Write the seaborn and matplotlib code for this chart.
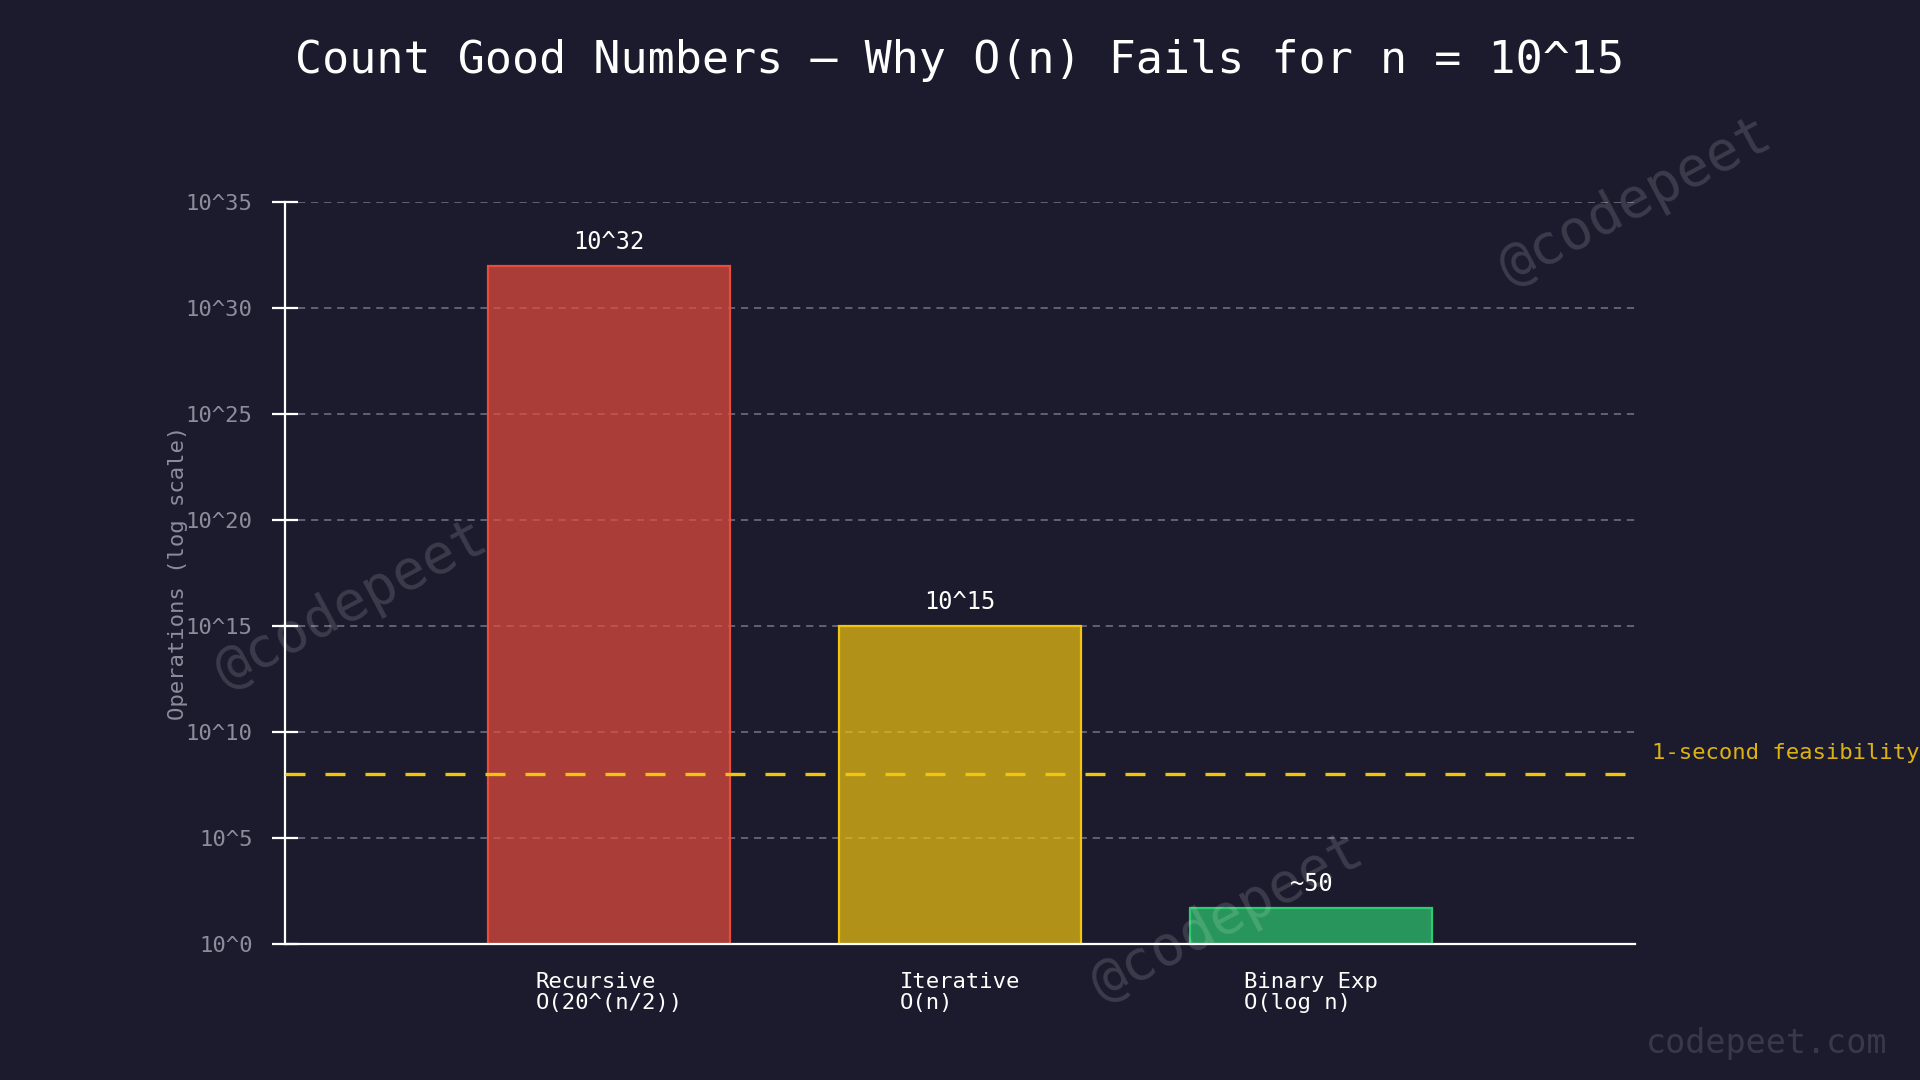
import math
import matplotlib
matplotlib.use("Agg")
import matplotlib.pyplot as plt
import matplotlib.transforms as mtransforms
from matplotlib.ticker import FixedLocator, FuncFormatter, NullLocator
import seaborn as sns
import pandas as pd

# ---- data ----
algorithms = ["Recursive\nO(20^(n/2))", "Iterative\nO(n)", "Binary Exp\nO(log n)"]
operations = [1e32, 1e15, 50]
value_labels = ["10^32", "10^15", "~50"]
bar_colors = ["#e74c3c", "#f1c40f", "#2ecc71"]
ytick_exponents = [0, 5, 10, 15, 20, 25, 30, 35]
feasibility_ops = 1e8
feasibility_label = "1-second feasibility"
title = "Count Good Numbers \u2014 Why O(n) Fails for n = 10^15"
ylabel = "Operations (log scale)"

BG = "#1c1b2e"

sns.set_style("dark", rc={"axes.facecolor": BG, "figure.facecolor": BG})
plt.rcParams["font.family"] = ["DejaVu Sans Mono", "DejaVu Sans"]

fig = plt.figure(figsize=(9.6, 5.4), dpi=200)
fig.patch.set_facecolor(BG)
ax = fig.add_axes([0.1484, 0.1259, 0.7031, 0.687])
ax.set_facecolor(BG)

df = pd.DataFrame({"algo": algorithms, "ops": operations})
sns.barplot(data=df, x="algo", y="ops", hue="algo", palette=bar_colors,
            legend=False, width=0.69, saturation=1, ax=ax, zorder=2)

ax.set_yscale("log")
ax.set_ylim(1, 1e35)
ax.set_xlim(-0.923, 2.923)

# style bars: translucent fill, solid edge
for patch in ax.patches:
    fc = patch.get_facecolor()
    patch.set_facecolor((fc[0], fc[1], fc[2], 0.7))
    patch.set_edgecolor((fc[0], fc[1], fc[2], 1.0))
    patch.set_linewidth(0.8)

# value labels
for i, (v, lbl) in enumerate(zip(operations, value_labels)):
    ax.annotate(lbl, (i, v), xytext=(0, 4.3), textcoords="offset points",
                ha="center", va="bottom", color="white", fontsize=8.5, zorder=5)

# feasibility line
ax.axhline(feasibility_ops, color="#f1c40f", lw=1.2, dashes=(6, 6), zorder=4)
trans = mtransforms.blended_transform_factory(ax.transAxes, ax.transData)
ax.text(1.013, 1e9, feasibility_label, transform=trans, color="#f1c40f",
        alpha=0.9, fontsize=8, va="center", ha="left", clip_on=False)

# y axis ticks
ax.yaxis.set_major_locator(FixedLocator([10.0 ** e for e in ytick_exponents]))
ax.yaxis.set_minor_locator(NullLocator())
ax.yaxis.set_major_formatter(FuncFormatter(lambda y, p: "10^%d" % round(math.log10(y))))
ax.tick_params(axis="y", direction="inout", length=9.4, width=0.8, color="white",
               labelcolor="#8c8c9a", labelsize=8, pad=7, left=True)
ax.tick_params(axis="x", length=0, labelcolor="white", labelsize=8, pad=10)
for t in ax.get_xticklabels():
    t.set_multialignment("left")
    t.set_linespacing(1.1)

ax.set_xlabel("")
ax.set_ylabel(ylabel, color="#8c8c9a", fontsize=8, va="center")
ax.yaxis.set_label_coords(-0.079, 0.5)

# grid
ax.grid(axis="y", color="#9a9aae", alpha=0.55, lw=0.7, ls=(0, (3.7, 3.0)), zorder=0)
ax.grid(axis="x", visible=False)
ax.set_axisbelow(True)

for s in ["top", "right"]:
    ax.spines[s].set_visible(False)
for s in ["left", "bottom"]:
    ax.spines[s].set_visible(True)
    ax.spines[s].set_color("white")
    ax.spines[s].set_linewidth(0.8)

# title
fig.text(0.5, 0.944, title, ha="center", va="center", color="white", fontsize=16.2)

# watermarks
for (wx, wy) in [(0.8516, 0.813), (0.183, 0.440), (0.639, 0.150)]:
    fig.text(wx, wy, "@codepeet", rotation=28, ha="center", va="center",
             color="white", alpha=0.14, fontsize=20, rotation_mode="anchor", zorder=10)
fig.text(0.983, 0.034, "codepeet.com", ha="right", va="center", color="white",
         alpha=0.13, fontsize=12)

fig.savefig("out.png", dpi=200, facecolor=BG)
